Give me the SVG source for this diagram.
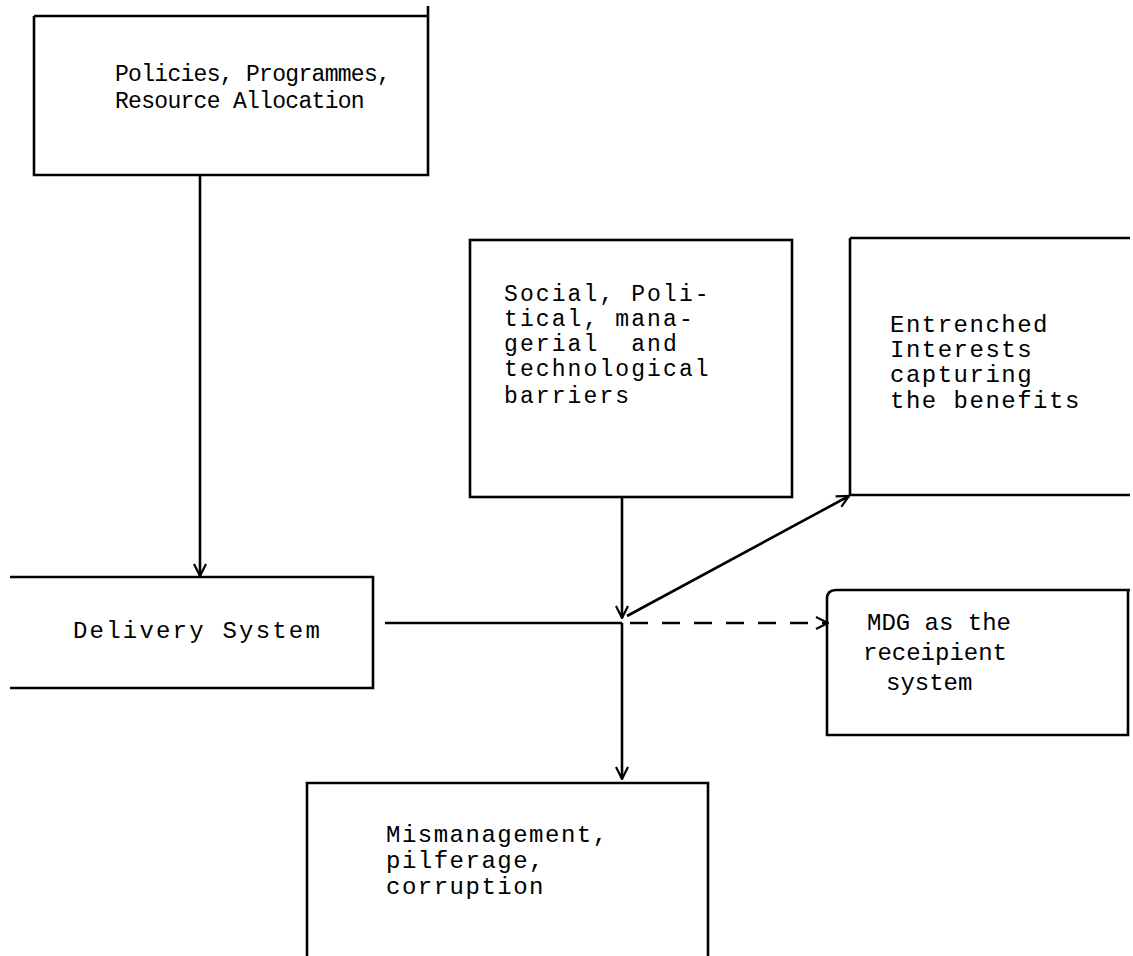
<svg xmlns="http://www.w3.org/2000/svg" width="1133" height="956" viewBox="0 0 1133 956">
<style>
.box{fill:none;stroke:#000;stroke-width:2.6;stroke-linejoin:miter}
.t{font-family:"Liberation Mono","DejaVu Sans Mono",monospace;font-size:24px;letter-spacing:1.5px;fill:#000;white-space:pre}
.narrow{font-size:23px;letter-spacing:-0.7px}
.mid{letter-spacing:0px}
.wide{letter-spacing:2.2px}
.soc{font-size:23px;letter-spacing:2.1px}
.c{fill:none;stroke:#000;stroke-width:2.6}
.d{stroke-dasharray:18 14}
</style>
<defs>
<marker id="ah" viewBox="0 0 14 14" refX="13" refY="7" markerWidth="14" markerHeight="14" markerUnits="userSpaceOnUse" orient="auto">
<path d="M1,1 L13,7 L1,13" fill="none" stroke="#000" stroke-width="2.2"/>
</marker>
</defs>
<rect width="1133" height="956" fill="#fff"/>
<g id="policies">
<path class="box" d="M34,16 H428 M428,6 V175 H34 V16"/>
<text class="t narrow" x="115" y="81">Policies, Programmes,</text>
<text class="t narrow" x="115" y="108">Resource Allocation</text>
</g>
<g id="delivery">
<path class="box" d="M10,577 H373 V688 H10"/>
<text class="t wide" x="73" y="638">Delivery System</text>
</g>
<g id="barriers">
<rect class="box" x="470" y="240" width="322" height="257"/>
<text class="t soc" x="504" y="301">Social, Poli-</text>
<text class="t soc" x="504" y="326">tical, mana-</text>
<text class="t soc" x="504" y="351">gerial  and</text>
<text class="t soc" x="504" y="376">technological</text>
<text class="t soc" x="504" y="403">barriers</text>
</g>
<g id="entrenched">
<path class="box" d="M850,238 H1130 M850,238 V495 H1130"/>
<text class="t" x="890" y="332">Entrenched</text>
<text class="t" x="890" y="357">Interests</text>
<text class="t" x="890" y="382">capturing</text>
<text class="t" x="890" y="408">the benefits</text>
</g>
<g id="mdg">
<path class="box" d="M1130,590 H836 Q827,590 827,599 V735 H1128 V590"/>
<text class="t mid" x="867" y="630">MDG as the</text>
<text class="t mid" x="863" y="660">receipient</text>
<text class="t mid" x="886" y="690">system</text>
</g>
<g id="mismanagement">
<path class="box" d="M307,956 V783 H708 V956"/>
<text class="t" x="386" y="842">Mismanagement,</text>
<text class="t" x="386" y="868">pilferage,</text>
<text class="t" x="386" y="894">corruption</text>
</g>
<g id="connectors">
<line class="c" x1="200" y1="175" x2="200" y2="576" marker-end="url(#ah)"/>
<line class="c" x1="622" y1="497" x2="622" y2="618" marker-end="url(#ah)"/>
<line class="c" x1="385" y1="623" x2="622" y2="623"/>
<line class="c" x1="627" y1="616" x2="849" y2="496" marker-end="url(#ah)"/>
<line class="c d" x1="630" y1="623" x2="828" y2="623" marker-end="url(#ah)"/>
<line class="c" x1="622" y1="623" x2="622" y2="779" marker-end="url(#ah)"/>
</g>
</svg>
